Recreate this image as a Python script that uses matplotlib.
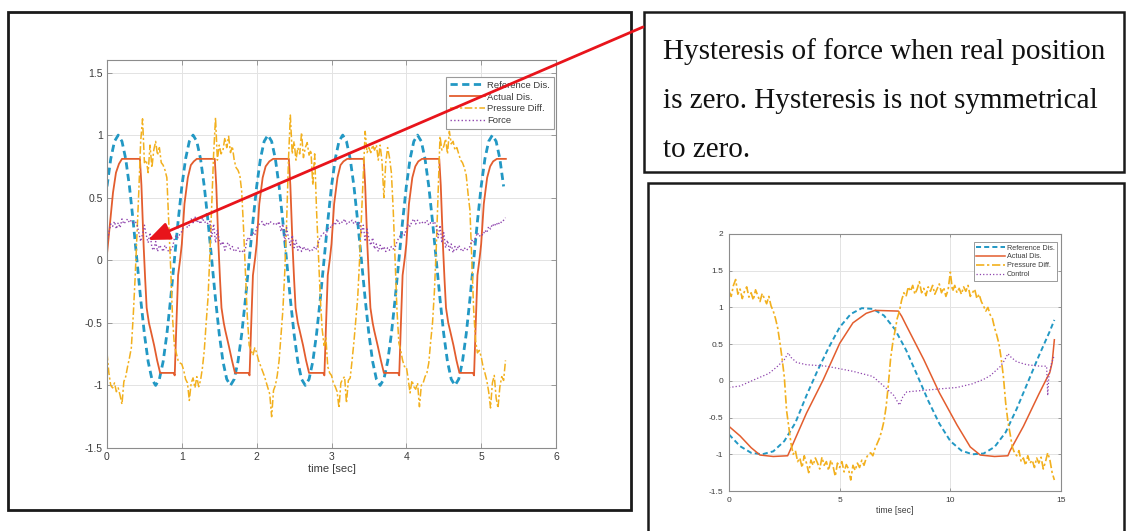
#Recreation of the hysteresis figure: two MATLAB style plots, a note box and a red arrow
import matplotlib
matplotlib.use("Agg")
import matplotlib.pyplot as plt
import numpy as np
from matplotlib.patches import Rectangle, FancyArrowPatch

#==============
#Data, left plot (sinusoidal reference, ~1 s period)
ref_left = [0.59, 0.81, 0.95, 1.00, 0.95, 0.81, 0.59, 0.31, 0.00, -0.31,
            -0.59, -0.81, -0.95, -1.00, -0.95, -0.81, -0.59, -0.31, 0.00, 0.31,
            0.59, 0.81, 0.95, 1.00, 0.95, 0.81, 0.59, 0.31, 0.00, -0.31,
            -0.59, -0.81, -0.95, -1.00, -0.95, -0.81, -0.59, -0.31, 0.00, 0.31,
            0.59, 0.81, 0.95, 1.00, 0.95, 0.81, 0.59, 0.31, 0.00, -0.31,
            -0.59, -0.81, -0.95, -1.00, -0.95, -0.81, -0.59, -0.31, 0.00, 0.31,
            0.59, 0.81, 0.95, 1.00, 0.95, 0.81, 0.59, 0.31, 0.00, -0.31,
            -0.59, -0.81, -0.95, -1.00, -0.95, -0.81, -0.59, -0.31, 0.00, 0.31,
            0.59, 0.81, 0.95, 1.00, 0.95, 0.81, 0.59, 0.31, 0.00, -0.31,
            -0.59, -0.81, -0.95, -1.00, -0.95, -0.81, -0.59, -0.31, 0.00, 0.31,
            0.59, 0.81, 0.95, 1.00, 0.95, 0.81, 0.59]
ref_left_step = 0.05

act_left_t = [0.00, 0.036, 0.08, 0.12, 0.16, 0.20, 0.44, 0.46, 0.49, 0.51, 0.53, 0.56, 0.58, 0.63, 0.67, 0.71, 0.89, 0.905, 0.925, 0.95, 0.98,
              1.00, 1.035, 1.08, 1.12, 1.16, 1.20, 1.44, 1.46, 1.49, 1.51, 1.53, 1.56, 1.58, 1.63, 1.67, 1.71, 1.89, 1.905, 1.925, 1.95, 1.98,
              2.00, 2.035, 2.08, 2.12, 2.17, 2.22, 2.43, 2.45, 2.48, 2.50, 2.52, 2.55, 2.57, 2.62, 2.66, 2.70, 2.89, 2.905, 2.925, 2.95, 2.98,
              3.00, 3.035, 3.08, 3.12, 3.16, 3.21, 3.43, 3.45, 3.48, 3.50, 3.52, 3.55, 3.57, 3.62, 3.66, 3.70, 3.89, 3.905, 3.925, 3.95, 3.98,
              4.00, 4.035, 4.08, 4.12, 4.16, 4.21, 4.44, 4.46, 4.49, 4.51, 4.53, 4.56, 4.58, 4.63, 4.67, 4.71, 4.89, 4.905, 4.925, 4.95, 4.98,
              5.00, 5.035, 5.08, 5.12, 5.16, 5.21, 5.33]
act_left_y = [0.05, 0.27, 0.54, 0.70, 0.77, 0.81, 0.81, 0.60, 0.11, -0.15, -0.38, -0.50, -0.55, -0.68, -0.80, -0.90, -0.90, -0.92, -0.55, -0.12, 0.02,
              0.13, 0.45, 0.66, 0.76, 0.79, 0.81, 0.81, 0.60, 0.11, -0.15, -0.38, -0.50, -0.56, -0.69, -0.80, -0.90, -0.90, -0.92, -0.55, -0.12, 0.02,
              0.13, 0.45, 0.66, 0.75, 0.79, 0.81, 0.81, 0.60, 0.11, -0.15, -0.38, -0.50, -0.55, -0.68, -0.80, -0.90, -0.90, -0.92, -0.55, -0.12, 0.02,
              0.13, 0.45, 0.66, 0.76, 0.79, 0.81, 0.81, 0.60, 0.11, -0.15, -0.38, -0.50, -0.56, -0.69, -0.80, -0.90, -0.90, -0.92, -0.55, -0.12, 0.02,
              0.13, 0.45, 0.66, 0.75, 0.79, 0.81, 0.81, 0.60, 0.11, -0.15, -0.38, -0.50, -0.55, -0.68, -0.80, -0.90, -0.90, -0.92, -0.55, -0.12, 0.02,
              0.13, 0.45, 0.66, 0.75, 0.79, 0.81, 0.81]

#pressure difference and force, one value every 25 ms
press_left = [-0.74, -0.90, -1.00, -1.02, -0.98, -1.05, -1.02, -1.08, -1.15, -0.97,
              -0.93, -0.85, -0.78, -0.70, -0.45, -0.15, 0.20, 0.55, 0.95, 1.13,
              0.78, 0.80, 0.70, 0.92, 0.74, 0.88, 0.95, 0.84, 0.90, 0.78,
              0.76, 0.72, 0.66, 0.30, -0.05, -0.45, -0.68, -0.74, -0.80, -0.82,
              -0.83, -0.88, -0.95, -0.98, -1.12, -0.98, -0.94, -1.02, -0.93, -1.01,
              -0.96, -0.86, -0.72, -0.50, -0.30, 0.05, 0.45, 0.85, 1.14, 0.80,
              0.92, 0.85, 0.88, 0.98, 0.90, 0.99, 0.86, 0.91, 0.80, 0.74,
              0.72, 0.68, 0.55, 0.25, -0.10, -0.45, -0.68, -0.72, -0.76, -0.70,
              -0.74, -0.80, -0.84, -0.88, -0.92, -0.97, -1.02, -1.07, -1.25, -1.04,
              -1.00, -0.92, -0.80, -0.60, -0.40, -0.10, 0.30, 0.80, 1.16, 0.85,
              0.95, 0.80, 0.90, 0.85, 1.02, 0.82, 0.90, 0.94, 0.84, 0.88,
              0.60, 0.85, 0.40, 0.05, -0.30, -0.55, -0.68, -0.62, -0.85, -0.90,
              -0.92, -0.98, -1.01, -1.05, -1.18, -0.98, -0.95, -0.93, -1.14, -0.96,
              -0.94, -0.80, -0.65, -0.48, -0.30, 0.00, 0.35, 0.70, 1.03, 0.86,
              0.90, 0.86, 0.92, 0.88, 0.92, 0.80, 0.92, 0.79, 0.50, 0.78,
              0.90, 0.82, 0.70, 0.40, 0.00, -0.40, -0.66, -0.72, -0.80, -0.85,
              -0.85, -0.95, -1.06, -0.96, -1.01, -1.03, -0.98, -1.17, -1.00, -0.98,
              -0.93, -0.90, -0.82, -0.65, -0.50, -0.25, 0.10, 0.55, 0.99, 0.88,
              0.91, 0.97, 0.85, 1.03, 0.93, 0.95, 0.88, 0.90, 0.85, 0.80,
              0.78, 0.74, 0.68, 0.53, 0.40, 0.00, -0.40, -0.64, -0.74, -0.72,
              -0.77, -0.85, -0.90, -0.96, -1.05, -1.18, -0.98, -0.92, -1.10, -1.18,
              -1.01, -0.93, -0.96, -0.80]
force_left = [0.14, 0.22, 0.29, 0.27, 0.31, 0.25, 0.30, 0.26, 0.33, 0.29,
              0.31, 0.33, 0.30, 0.32, 0.30, 0.31, 0.29, 0.22, 0.15, 0.21,
              0.28, 0.20, 0.14, 0.22, 0.10, 0.08, 0.15, 0.07, 0.12, 0.10,
              0.07, 0.12, 0.09, 0.07, 0.08, 0.10, 0.17, 0.20, 0.18, 0.21,
              0.23, 0.28, 0.30, 0.26, 0.28, 0.33, 0.30, 0.35, 0.30, 0.32,
              0.29, 0.34, 0.30, 0.31, 0.29, 0.31, 0.19, 0.29, 0.14, 0.24,
              0.16, 0.12, 0.15, 0.08, 0.13, 0.14, 0.09, 0.11, 0.07, 0.08,
              0.10, 0.07, 0.08, 0.06, 0.09, 0.18, 0.16, 0.20, 0.22, 0.20,
              0.26, 0.28, 0.30, 0.31, 0.27, 0.30, 0.28, 0.31, 0.30, 0.29,
              0.30, 0.28, 0.31, 0.23, 0.29, 0.15, 0.26, 0.18, 0.12, 0.20,
              0.10, 0.16, 0.08, 0.12, 0.07, 0.11, 0.08, 0.10, 0.07, 0.09,
              0.08, 0.11, 0.09, 0.14, 0.19, 0.20, 0.22, 0.20, 0.25, 0.27,
              0.26, 0.30, 0.28, 0.33, 0.29, 0.31, 0.30, 0.33, 0.29, 0.31,
              0.30, 0.32, 0.29, 0.31, 0.28, 0.30, 0.22, 0.28, 0.15, 0.25,
              0.17, 0.12, 0.18, 0.09, 0.13, 0.07, 0.12, 0.08, 0.11, 0.07,
              0.10, 0.08, 0.11, 0.09, 0.10, 0.15, 0.18, 0.20, 0.22, 0.20,
              0.25, 0.29, 0.27, 0.31, 0.33, 0.29, 0.32, 0.30, 0.29, 0.31,
              0.30, 0.32, 0.28, 0.30, 0.29, 0.31, 0.27, 0.18, 0.28, 0.14,
              0.22, 0.10, 0.16, 0.08, 0.13, 0.06, 0.11, 0.08, 0.12, 0.09,
              0.07, 0.10, 0.08, 0.09, 0.11, 0.16, 0.14, 0.18, 0.22, 0.19,
              0.21, 0.20, 0.24, 0.22, 0.27, 0.25, 0.29, 0.27, 0.30, 0.28,
              0.31, 0.30, 0.32, 0.34]
fast_step = 0.025

#==============
#Data, right plot (slow sinusoid, ~10 s period)
ref_right_t = [0.0, 0.5, 1.0, 1.5, 2.0, 2.5, 3.0, 3.5, 4.0, 4.5, 5.0, 5.5, 6.0, 6.5, 7.0, 7.5,
               8.0, 8.5, 9.0, 9.5, 10.0, 10.5, 11.0, 11.5, 12.0, 12.5, 13.0, 13.5, 14.0, 14.5, 14.7]
ref_right_y = [-0.73, -0.89, -0.98, -1.00, -0.96, -0.82, -0.57, -0.20, 0.14, 0.45, 0.73, 0.91, 0.99, 0.98, 0.89, 0.70,
               0.42, 0.08, -0.27, -0.58, -0.82, -0.95, -1.00, -0.99, -0.90, -0.70, -0.38, -0.02, 0.34, 0.68, 0.83]
act_right_t = [0.0, 0.5, 1.0, 1.4, 2.0, 2.65, 2.8, 3.5, 4.25, 5.0, 5.6, 6.2, 6.6, 7.65, 7.8, 8.0, 8.8, 9.5,
               10.3, 10.9, 11.35, 12.0, 12.6, 12.7, 13.3, 14.0, 14.5, 14.6, 14.7]
act_right_y = [-0.62, -0.75, -0.91, -1.01, -1.03, -1.02, -0.92, -0.44, 0.01, 0.51, 0.79, 0.92, 0.96, 0.95, 0.88, 0.76, 0.29, -0.16,
               -0.60, -0.90, -1.01, -1.03, -1.02, -0.95, -0.62, -0.18, 0.12, 0.25, 0.56]
press_right = [1.22, 1.15, 1.30, 1.38, 1.18, 1.25, 1.12, 1.22, 1.28, 1.14,
               1.20, 1.10, 1.24, 1.16, 1.08, 1.19, 1.12, 1.05, 1.15, 1.02,
               0.95, 0.85, 0.72, 0.52, 0.30, 0.05, -0.40, -0.62, -0.85, -1.00,
               -0.95, -1.10, -1.05, -1.18, -1.02, -1.12, -1.25, -1.08, -1.15, -1.05,
               -1.12, -1.20, -1.04, -1.15, -1.10, -1.22, -1.08, -1.16, -1.30, -1.12,
               -1.18, -1.10, -1.24, -1.14, -1.20, -1.35, -1.15, -1.22, -1.12, -1.18,
               -1.08, -1.15, -1.05, -1.00, -0.98, -1.02, -0.92, -0.85, -0.78, -0.68,
               -0.55, -0.35, -0.05, 0.30, 0.52, 0.68, 0.85, 0.95, 1.10, 1.20,
               1.15, 1.28, 1.22, 1.30, 1.18, 1.25, 1.35, 1.20, 1.26, 1.16,
               1.28, 1.22, 1.30, 1.18, 1.25, 1.32, 1.20, 1.27, 1.15, 1.24,
               1.48, 1.22, 1.30, 1.20, 1.26, 1.18, 1.28, 1.22, 1.30, 1.15,
               1.20, 1.25, 1.12, 1.18, 1.08, 1.02, 0.95, 1.00, 0.90, 0.85,
               0.72, 0.62, 0.50, 0.30, 0.05, -0.30, -0.55, -0.72, -0.90, -0.98,
               -1.02, -0.95, -1.10, -1.05, -1.15, -1.02, -1.12, -1.08, -1.18, -1.05,
               -1.12, -1.04, -1.20, -1.10, -0.98, -1.08, -1.25, -1.35]
press_right_step = 0.1
ctrl_right_t = [0.0, 0.5, 1.25, 1.8, 2.2, 2.5, 2.68, 2.8, 3.06, 3.5, 4.4, 5.6, 6.5, 7.1, 7.45, 7.7, 7.85, 8.03,
                8.78, 9.5, 10.3, 11.0, 11.5, 11.8, 12.24, 12.45, 12.6, 12.75, 13.0, 13.45, 14.05, 14.35, 14.4,
                14.45, 14.55, 14.7]
ctrl_right_y = [-0.09, -0.07, 0.03, 0.10, 0.20, 0.29, 0.38, 0.32, 0.25, 0.22, 0.20, 0.13, 0.06, -0.10, -0.20, -0.33, -0.22, -0.15,
                -0.13, -0.11, -0.09, -0.04, 0.02, 0.07, 0.19, 0.28, 0.37, 0.32, 0.26, 0.22, 0.20, 0.20, -0.20,
                0.05, 0.22, 0.35]

#ticks and texts
left_xticks = [0, 1, 2, 3, 4, 5, 6]
left_yticks = [-1.5, -1, -0.5, 0, 0.5, 1, 1.5]
left_ylabels = ["-1.5", "-1", "-0.5", "0", "0.5", "1", "1.5"]
right_xticks = [0, 5, 10, 15]
right_yticks = [-1.5, -1, -0.5, 0, 0.5, 1, 1.5, 2]
right_ylabels = ["-1.5", "-1", "-0.5", "0", "0.5", "1", "1.5", "2"]
left_names = ["Reference Dis.", "Actual Dis.", "Pressure Diff.", "Force"]
right_names = ["Reference Dis.", "Actual Dis.", "Pressure Diff.", "Control"]
note_lines = ["Hysteresis of force when real position",
              "is zero. Hysteresis is not symmetrical",
              "to zero."]

#colors (MATLAB like)
c_ref = "#2298c4"
c_act = "#e35d2e"
c_press = "#f2b01e"
c_force = "#8e44ad"
dashdot = (0, (5, 1.6, 1.4, 1.6))  #MATLAB like dash-dot

plt.rcParams["font.family"] = ["Liberation Sans", "DejaVu Sans"]

W, H = 1127, 531
fig = plt.figure(figsize=(W / 100, H / 100), dpi=100)
fig.patch.set_facecolor("white")

def fx(px):
  return px / W

def fy(py):
  return 1 - py / H

#================================================
#MATLAB look for one axes
def matlab_axes(ax, fs):
  for sp in ax.spines.values():
    sp.set_color("#8c8c8c")
    sp.set_linewidth(0.8)
  ax.tick_params(direction="in", length=3.5, width=0.6, color="#8c8c8c",
                 labelcolor="#3c3c3c", labelsize=fs, top=True, right=True, pad=3)
  ax.grid(True, color="#e3e3e3", lw=0.7)
  ax.set_axisbelow(True)

#left plot
ax1 = fig.add_axes([fx(107), fy(448), (556 - 107) / W, (448 - 60) / H])
t_ref = np.arange(len(ref_left)) * ref_left_step
t_fast = np.arange(len(press_left)) * fast_step
ax1.plot(t_ref, ref_left, color=c_ref, lw=2.0, ls=(0, (2.6, 1.6)), label=left_names[0])
ax1.plot(act_left_t, act_left_y, color=c_act, lw=1.3, label=left_names[1])
ax1.plot(t_fast, press_left, color=c_press, lw=1.1, ls=dashdot, label=left_names[2])
ax1.plot(np.arange(len(force_left)) * fast_step, force_left, color=c_force, lw=1.0, ls=":", label=left_names[3])
ax1.set_xlim(0, 6)
ax1.set_ylim(-1.5, 1.6)
ax1.set_xticks(left_xticks)
ax1.set_yticks(left_yticks, left_ylabels)
matlab_axes(ax1, 7.5)
ax1.set_xlabel("time [sec]", fontsize=8, color="#3c3c3c", labelpad=1)
leg1 = ax1.legend(loc="upper right", bbox_to_anchor=(1 - 2 / 449, 1 - 17 / 388), borderaxespad=0,
                  fontsize=6.8, fancybox=False, framealpha=1, edgecolor="#9a9a9a",
                  handlelength=3.8, handletextpad=0.2, labelspacing=0.3, borderpad=0.4)
leg1.get_frame().set_linewidth(0.8)
for txt in leg1.get_texts():
  txt.set_color("#3c3c3c")

#right plot
ax2 = fig.add_axes([fx(729), fy(491), (1061 - 729) / W, (491 - 234) / H])
ax2.plot(ref_right_t, ref_right_y, color=c_ref, lw=1.4, ls=(0, (2.6, 1.6)), label=right_names[0])
ax2.plot(act_right_t, act_right_y, color=c_act, lw=1.1, label=right_names[1])
ax2.plot(np.arange(len(press_right)) * press_right_step, press_right, color=c_press, lw=1.2, ls=dashdot, label=right_names[2])
ax2.plot(ctrl_right_t, ctrl_right_y, color=c_force, lw=0.9, ls=":", label=right_names[3])
ax2.set_xlim(0, 15)
ax2.set_ylim(-1.5, 2)
ax2.set_xticks(right_xticks)
ax2.set_yticks(right_yticks, right_ylabels)
matlab_axes(ax2, 6)
ax2.tick_params(length=2.5, pad=4)
ax2.set_xlabel("time [sec]", fontsize=6.2, color="#3c3c3c", labelpad=2)
leg2 = ax2.legend(loc="upper right", bbox_to_anchor=(1 - 4 / 332, 1 - 8 / 257), borderaxespad=0,
                  fontsize=5.2, fancybox=False, framealpha=1, edgecolor="#9a9a9a",
                  handlelength=4.0, handletextpad=0.2, labelspacing=0.25, borderpad=0.35)
leg2.get_frame().set_linewidth(0.7)
for txt in leg2.get_texts():
  txt.set_color("#3c3c3c")

#================================================
#frames around the panels and the note
def frame(x0, y0, x1, y1, lw):
  fig.add_artist(Rectangle((fx(x0), fy(y1)), fx(x1) - fx(x0), fy(y0) - fy(y1),
                           transform=fig.transFigure, fill=False, ec="#1a1a1a", lw=lw))

frame(8, 12, 631, 510, 2.0)
frame(644, 12, 1124, 172, 1.8)
frame(648, 183, 1124, 560, 1.8)

#note text
for i, line in enumerate(note_lines):
  fig.text(fx(663), fy(52 + 49 * i), line, fontsize=21, family="Liberation Serif",
           color="#111111", va="center", ha="left")

#red arrow from note to the plot
arrow = FancyArrowPatch((fx(643), fy(27)), (fx(148), fy(240)), transform=fig.transFigure,
                        arrowstyle="-|>,head_length=1.1,head_width=0.45", mutation_scale=12,
                        color="#e8141b", lw=2.0, shrinkA=0, shrinkB=0, zorder=10)
fig.add_artist(arrow)

plt.savefig("out.png", dpi=100)
